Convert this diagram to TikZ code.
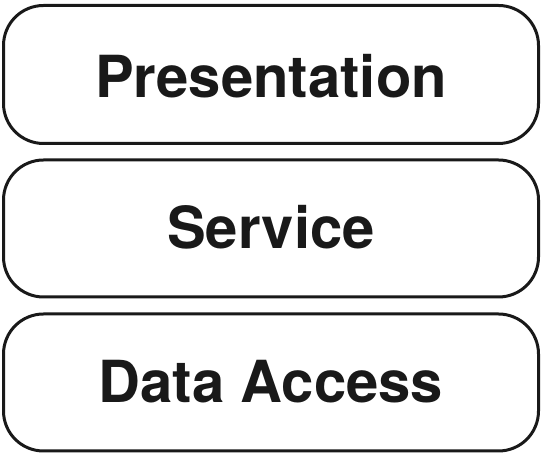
\documentclass[tikz,border=0pt]{standalone}
\usepackage{fontspec}
\setmainfont{TeX Gyre Heros}
\begin{document}
\begin{tikzpicture}[x=1pt,y=-1pt,
  layerbox/.style={draw=black!90, line width=3pt, rounded corners=40pt},
  layertext/.style={font=\fontsize{58}{60}\selectfont\bfseries, text=black!90, inner sep=0pt}]
\useasboundingbox (0,0) rectangle (542,454);
\draw[layerbox] (3.5,5.5) rectangle (538.5,143.5);
\draw[layerbox] (3.5,160) rectangle (538.5,297);
\draw[layerbox] (3.5,314) rectangle (538.5,451);
\node[layertext, anchor=base] (p) at (271,98) {Presentation};
\node[layertext, anchor=base] (s) at (271,249) {Service};
\node[layertext, anchor=base] (d) at (271,403) {Data Access};
\end{tikzpicture}
\end{document}
